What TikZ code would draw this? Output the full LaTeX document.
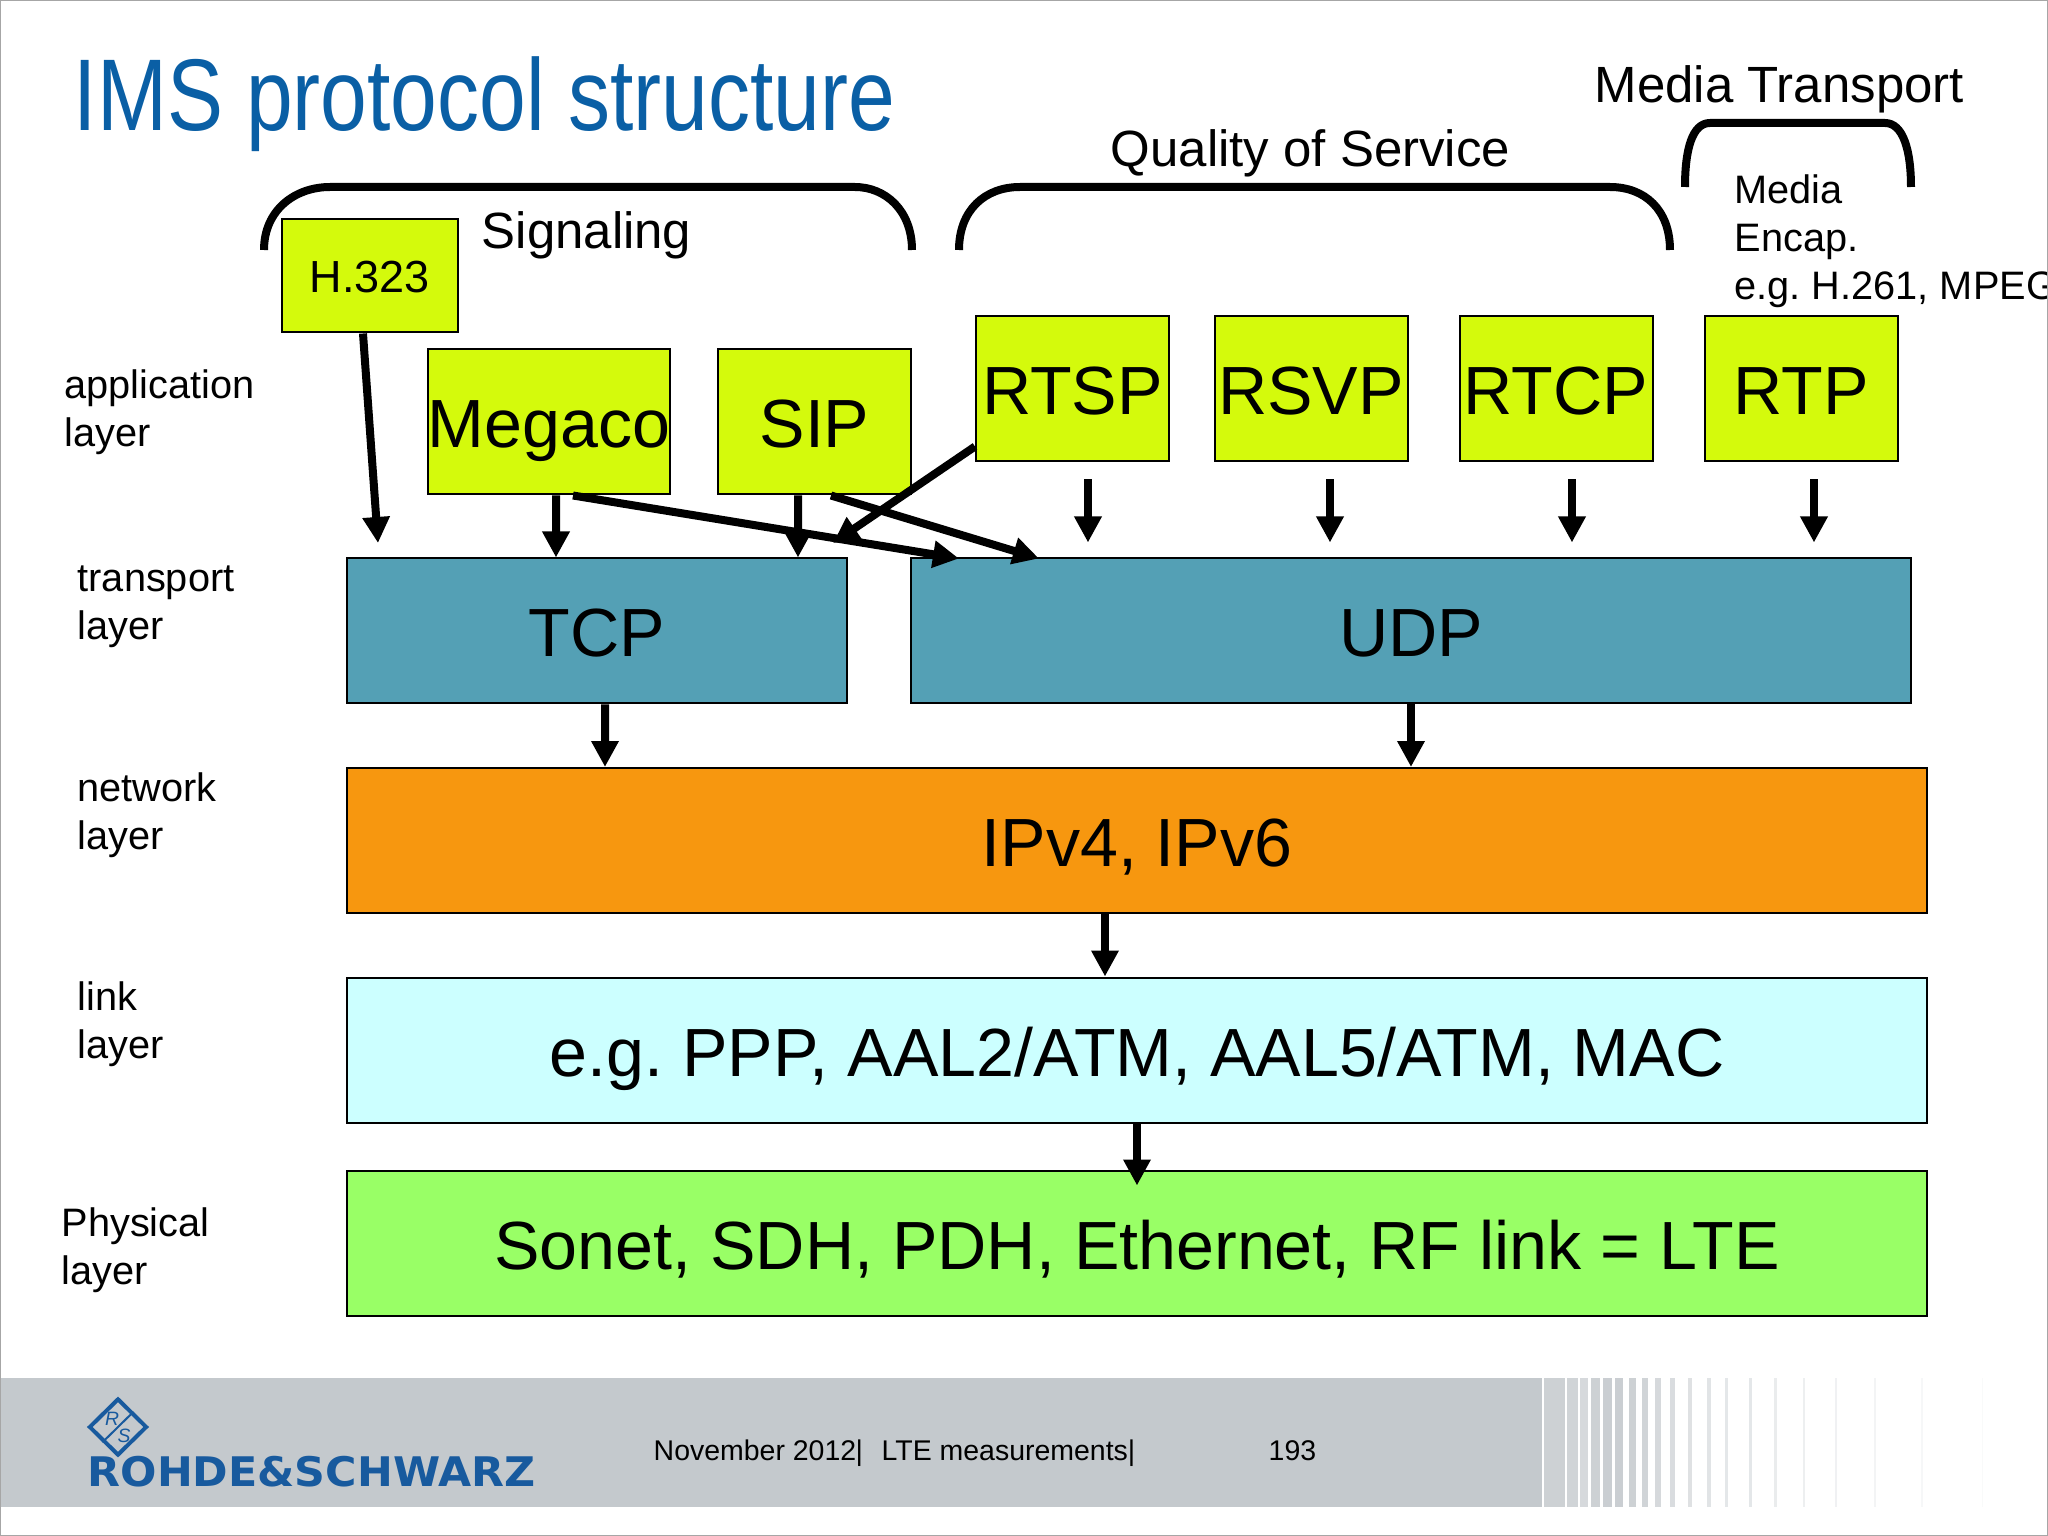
\documentclass[tikz,border=0pt]{standalone}
\usepackage{fontspec}
\usepackage{graphicx}
\setmainfont{Liberation Sans}
\newfontfamily\logofont{DejaVu Sans}
\frenchspacing
\usetikzlibrary{arrows.meta,shapes.geometric}
\definecolor{boxlime}{RGB}{212,250,12}
\definecolor{boxteal}{RGB}{84,160,181}
\definecolor{boxorange}{RGB}{247,151,15}
\definecolor{boxcyan}{RGB}{204,255,255}
\definecolor{boxgreen}{RGB}{153,255,102}
\definecolor{footgrey}{RGB}{196,201,205}
\definecolor{rsblue}{RGB}{24,90,158}
\definecolor{titleblue}{RGB}{10,95,165}
\tikzset{
  protobox/.style={draw=black, line width=0.02cm, inner sep=0pt, text height=0.52cm, text depth=0pt,
    font=\fontsize{19.4}{19.4}\selectfont},
  limebox/.style={protobox, fill=boxlime, minimum width=1.93cm, minimum height=1.45cm},
  layerbox/.style={protobox, minimum height=1.45cm},
  flowline/.style={line width=0.08cm, -{Triangle[length=0.26cm,width=0.26cm]}},
  bracket/.style={line width=0.08cm},
  layerlabel/.style={anchor=north west, inner sep=0pt, align=left, font=\fontsize{11.3}{13.6}\selectfont},
  grouplabel/.style={anchor=base west, inner sep=0pt, font=\fontsize{14.5}{14.5}\selectfont},
  footlabel/.style={anchor=base west, inner sep=0pt, font=\fontsize{8.1}{8.1}\selectfont},
}
\begin{document}
\begin{tikzpicture}[y=-1cm]
  \useasboundingbox (0,0) rectangle (20.48,15.36);
  \clip (0,0) rectangle (20.48,15.36);

  % title
  \node[anchor=base west, inner sep=0pt, text=titleblue, font=\fontsize{29}{29}\selectfont] (title) at (0.73,1.31)
    {\scalebox{0.824}[1]{IMS protocol structure}};

  % brackets
  \draw[bracket] (2.64,2.50) .. controls (2.64,2.10) and (2.95,1.87) .. (3.30,1.87) -- (8.55,1.87)
    .. controls (8.85,1.87) and (9.12,2.10) .. (9.12,2.50);
  \draw[bracket] (9.59,2.50) .. controls (9.59,2.10) and (9.85,1.87) .. (10.20,1.87) -- (16.10,1.87)
    .. controls (16.45,1.87) and (16.70,2.10) .. (16.70,2.50);
  \draw[bracket] (16.85,1.87) .. controls (16.85,1.50) and (16.92,1.23) .. (17.10,1.23) -- (18.85,1.23)
    .. controls (19.03,1.23) and (19.11,1.50) .. (19.11,1.87);

  \node[grouplabel] (signaling) at (4.81,2.49) {Signaling};
  \node[grouplabel] (qos) at (11.10,1.67) {Quality of Service};
  \node[grouplabel] (transport) at (15.94,1.03) {Media Transport};
  \node[layerlabel] (encap) at (17.34,1.745) {Media\\Encap.\\e.g. H.261, MPEG};

  % application layer
  \node[protobox, fill=boxlime, minimum width=1.76cm, minimum height=1.13cm, text height=0.34cm,
    font=\fontsize{12.8}{12.8}\selectfont] (h323) at (3.70,2.76) {H.323};
  \node[limebox, minimum width=2.41cm] (megaco) at (5.49,4.22) {Megaco};
  \node[limebox] (sip) at (8.145,4.22) {SIP};
  \node[limebox] (rtsp) at (10.725,3.89) {RTSP};
  \node[limebox] (rsvp) at (13.11,3.89) {RSVP};
  \node[limebox] (rtcp) at (15.56,3.89) {RTCP};
  \node[limebox] (rtp) at (18.015,3.89) {RTP};

  % lower layers
  \node[layerbox, fill=boxteal, minimum width=5.00cm] (tcp) at (5.97,6.31) {TCP};
  \node[layerbox, fill=boxteal, minimum width=10.00cm] (udp) at (14.11,6.31) {UDP};
  \node[layerbox, fill=boxorange, minimum width=15.80cm] (ip) at (11.37,8.405) {IPv4, IPv6};
  \node[layerbox, fill=boxcyan, minimum width=15.80cm] (link) at (11.37,10.50) {e.g. PPP, AAL2/ATM, AAL5/ATM, MAC};
  \node[layerbox, fill=boxgreen, minimum width=15.80cm] (phys) at (11.37,12.43) {Sonet, SDH, PDH, Ethernet, RF link = LTE};

  % layer names
  \node[layerlabel] (lapp) at (0.64,3.695) {application\\layer};
  \node[layerlabel] (ltrans) at (0.77,5.65) {transport\\layer};
  \node[layerlabel] (lnet) at (0.77,7.72) {network\\layer};
  \node[layerlabel] (llink) at (0.77,9.815) {link\\layer};
  \node[layerlabel] (lphys) at (0.61,12.07) {Physical\\layer};

  % connectors
  \coordinate (h323tip) at (3.78,5.43);
  \coordinate (rtsptip) at (8.33,5.43);
  \draw[flowline] ([xshift=-0.07cm]h323.south) -- (h323tip);
  \draw[flowline] ([xshift=0.07cm]megaco.south) -- ([xshift=-0.41cm]tcp.north);
  \draw[flowline] ([xshift=-0.165cm]sip.south) -- ([xshift=2.01cm]tcp.north);
  \draw[flowline] ([xshift=0.24cm]megaco.south) -- ([xshift=-4.52cm,yshift=-0.01cm]udp.north);
  \draw[flowline] ([xshift=0.165cm]sip.south) -- ([xshift=-3.72cm,yshift=-0.01cm]udp.north);
  \draw[flowline] ([yshift=0.16cm]rtsp.south west) -- (rtsptip);
  \foreach \boxname/\dx in {rtsp/0.155, rsvp/0.19, rtcp/0.16, rtp/0.125} {
    \coordinate (\boxname out) at ([xshift=\dx cm,yshift=-0.17cm]\boxname.south);
    \draw[flowline] (\boxname out) -- ([yshift=0.15cm]\boxname out |- udp.north);
  }
  \draw[flowline] ([xshift=0.08cm]tcp.south) -- ([xshift=-5.32cm]ip.north);
  \draw[flowline] (udp.south) -- (udp.south |- ip.north);
  \draw[flowline] ([xshift=-0.32cm]ip.south) -- ([xshift=-0.32cm]link.north);
  \draw[flowline] (link.south) -- ([yshift=-0.16cm]phys.north);

  % footer band
  \fill[footgrey] (0,13.78) rectangle (15.42,15.07);
  \foreach \xa/\xb/\shade in {15.44/15.65/85, 15.67/15.78/80, 15.80/15.88/70, 15.91/16.00/85, 16.03/16.12/90,
      16.15/16.23/90, 16.29/16.36/85, 16.42/16.48/80, 16.55/16.61/70, 16.70/16.75/65, 16.88/16.92/55,
      17.07/17.11/50, 17.25/17.28/45, 17.49/17.52/45, 17.74/17.77/35, 18.03/18.05/30, 18.35/18.37/25,
      18.74/18.76/20, 19.21/19.23/15, 19.82/19.83/10} {
    \fill[footgrey!\shade!white] (\xa,13.78) rectangle (\xb,15.07);
  }
  \node[footlabel] (footdate) at (6.53,14.60) {November 2012};
  \node[footlabel] (footsep) at (8.55,14.60) {|};
  \node[footlabel] (foottopic) at (8.81,14.60) {LTE measurements|};
  \node[footlabel] (footpage) at (12.68,14.60) {193};

  % logo
  \node[diamond, draw=rsblue, line width=0.04cm, inner sep=0pt, minimum width=0.58cm, minimum height=0.57cm,
    aspect=1] (logodiamond) at (1.18,14.27) {};
  \draw[rsblue, line width=0.02cm] (logodiamond.south west) -- (logodiamond.north east);
  \node[text=rsblue, inner sep=0pt, font=\fontsize{5.5}{5.5}\itshape\selectfont] (logor) at (1.12,14.19) {R};
  \node[text=rsblue, inner sep=0pt, font=\fontsize{5.5}{5.5}\itshape\selectfont] (logos) at (1.24,14.36) {S};
  \node[anchor=base west, inner sep=0pt, text=rsblue, font=\logofont\fontsize{11.6}{11.6}\bfseries\selectfont] (logotext) at (0.87,14.86)
    {\scalebox{1.05}[1]{ROHDE\&SCHWARZ}};

  % frame
  \draw[gray!70, line width=0.03cm] (0,0) rectangle (20.48,15.36);
\end{tikzpicture}
\end{document}
